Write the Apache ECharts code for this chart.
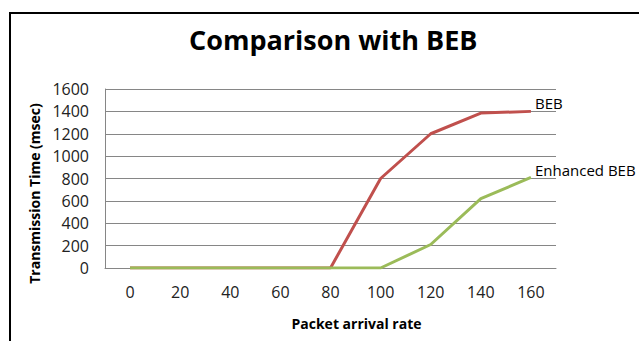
<!DOCTYPE html>
<html>
<head>
<meta charset="utf-8">
<script src="https://cdn.jsdelivr.net/npm/echarts@6/dist/echarts.min.js"></script>
<style>
html,body{margin:0;padding:0;background:#fff;}
#chart{width:639px;height:341px;}
</style>
</head>
<body>
<div id="chart"></div>
<script>
var categories = ['0','20','40','60','80','100','120','140','160'];
var bebValues = [0,0,0,0,0,800,1200,1385,1400];
var enhancedValues = [0,0,0,0,0,0,210,620,810];
var yTicks = {min:0, max:1600, interval:200};

var chart = echarts.init(document.getElementById('chart'), null, {renderer:'svg'});
var font = '"Open Sans", sans-serif';
chart.setOption({
  animation:false,
  backgroundColor:'#fff',
  title:{
    text:'Comparison with BEB',
    left:184,
    top:21,
    textStyle:{fontFamily:font,fontWeight:'bold',fontSize:27,color:'#000'}
  },
  graphic:[{
    type:'polyline',
    shape:{points:[[10,341],[10,13],[639,13]]},
    style:{stroke:'#000',lineWidth:2,fill:null}
  }],
  grid:{left:105,right:83,top:89,bottom:73},
  xAxis:{
    type:'category',
    data:categories,
    boundaryGap:true,
    name:'Packet arrival rate',
    nameLocation:'middle',
    nameGap:48,
    nameTextStyle:{fontFamily:font,fontWeight:'bold',fontSize:14,color:'#000',padding:[0,0,0,52],verticalAlign:'top'},
    axisLine:{show:true,lineStyle:{color:'#868686',width:1}},
    axisTick:{show:false},
    axisLabel:{fontFamily:font,fontSize:16,color:'#222',margin:16}
  },
  yAxis:{
    type:'value',
    min:yTicks.min,max:yTicks.max,interval:yTicks.interval,
    name:'Transmission Time (msec)',
    nameLocation:'middle',
    nameGap:62,
    nameTextStyle:{fontFamily:font,fontWeight:'bold',fontSize:14,color:'#000',padding:[0,30,0,0]},
    axisLine:{show:true,lineStyle:{color:'#868686',width:1}},
    axisTick:{show:false},
    axisLabel:{fontFamily:font,fontSize:16,color:'#222',margin:16,formatter:function(v){return String(v);}},
    splitLine:{show:true,lineStyle:{color:'#868686',width:1}}
  },
  series:[{
    name:'BEB',
    type:'line',
    data:bebValues,
    symbol:'none',
    lineStyle:{color:'#C0504D',width:3},
    itemStyle:{color:'#C0504D'},
    endLabel:{show:true,formatter:'BEB',distance:4,offset:[0,-8],fontFamily:font,fontSize:15,color:'#000'}
  },{
    name:'Enhanced BEB',
    type:'line',
    data:enhancedValues,
    symbol:'none',
    lineStyle:{color:'#9BBB59',width:3},
    itemStyle:{color:'#9BBB59'},
    endLabel:{show:true,formatter:'Enhanced BEB',distance:4,offset:[0,-7],fontFamily:font,fontSize:15,color:'#000'}
  }]
});
</script>
</body>
</html>
